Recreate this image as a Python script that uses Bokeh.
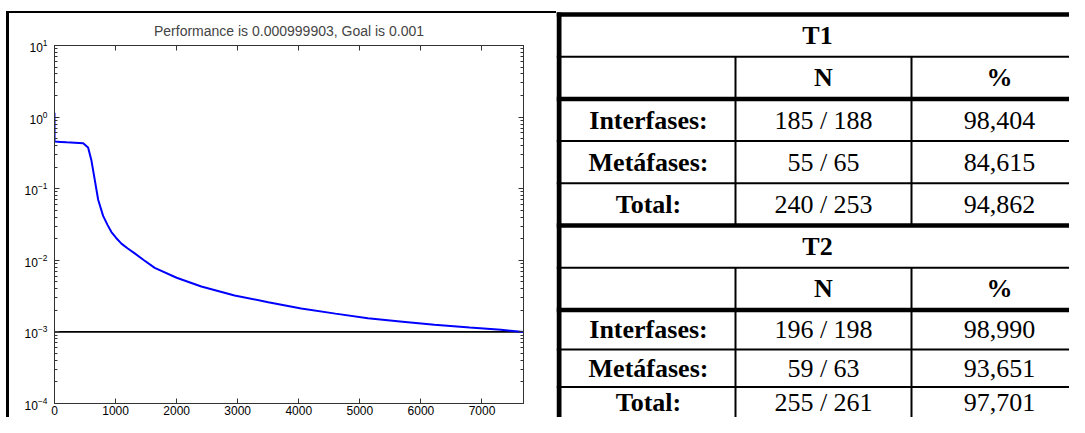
from bokeh.plotting import figure
from bokeh.models import (LogAxis, LinearAxis, Range1d, LogTicker, SingleIntervalTicker,
                          Div, Spacer)
from bokeh.layouts import row, column
from bokeh.core.properties import value
from bokeh.embed import file_html
from bokeh.resources import INLINE

# ---------------- data ----------------
epochs = [0, 1, 100, 200, 333, 470, 550, 605, 660, 715, 796, 870, 932, 1010, 1096, 1200,
          1314, 1460, 1641, 2000, 2404, 2949, 3500, 4040, 4600, 5131, 5700, 6221, 6800,
          7311, 7680]
perf = [1.15, 0.455, 0.45, 0.445, 0.44, 0.43, 0.375, 0.247, 0.132, 0.070, 0.0417, 0.031,
        0.0248, 0.0205, 0.0171, 0.0146, 0.0125, 0.0101, 0.00783, 0.0057, 0.00431, 0.00323,
        0.0026, 0.00212, 0.0018, 0.00155, 0.00139, 0.00126, 0.00115, 0.00107, 0.000999903]
goal = 0.001
title_text = "Performance is 0.000999903, Goal is 0.001"

table_titles = ["T1", "T2"]
col_headers = ["N", "%"]
row_labels = ["Interfases:", "Metáfases:", "Total:"]
t1_counts = ["185 / 188", "55 / 65", "240 / 253"]
t1_pct = ["98,404", "84,615", "94,862"]
t2_counts = ["196 / 198", "59 / 63", "255 / 261"]
t2_pct = ["98,990", "93,651", "97,701"]

# ---------------- layout constants (content pixels) ----------------
W_TOTAL, H_TOTAL = 1069, 417
LEFT_PAD, VLINE_W = 6, 3
TOP_PAD, HLINE_H = 11, 2
CHART_W = 556 - LEFT_PAD - VLINE_W          # chart panel ends where the table starts
CHART_H = H_TOTAL - TOP_PAD - HLINE_H

# ---------------- chart ----------------
AX = "#333333"
p = figure(width=CHART_W, height=CHART_H, y_axis_type="log",
           x_range=Range1d(0, epochs[-1]), y_range=Range1d(1e-4, 1e1),
           output_backend="svg", toolbar_location=None,
           min_border_left=45, min_border_right=33, min_border_top=28, min_border_bottom=14)
p.grid.visible = False
p.outline_line_color = AX
p.title.text = title_text
p.title.align = "center"
p.title.text_font = "Liberation Sans"
p.title.text_font_size = "14px"
p.title.text_font_style = "normal"
p.title.standoff = 14

def style_axis(ax, labels=True):
    ax.axis_line_color = AX
    ax.major_tick_line_color = AX
    ax.minor_tick_line_color = AX
    ax.major_tick_in = 5
    ax.major_tick_out = 0
    ax.minor_tick_in = 3
    ax.minor_tick_out = 0
    if labels:
        ax.major_label_text_font = "Liberation Sans"
        ax.major_label_text_font_size = "12px"
        ax.major_label_text_color = "black"
    else:
        ax.major_label_text_font_size = "2px"
        ax.major_label_text_color = None
        ax.major_label_standoff = 0

p.yaxis[0].ticker = LogTicker(num_minor_ticks=10)
p.xaxis[0].ticker = SingleIntervalTicker(interval=1000, num_minor_ticks=0)
style_axis(p.yaxis[0])
style_axis(p.xaxis[0])
p.yaxis[0].major_label_standoff = 7
p.xaxis[0].major_label_standoff = 2

ra = LogAxis(ticker=LogTicker(num_minor_ticks=10))
style_axis(ra, labels=False)
p.add_layout(ra, "right")
ta = LinearAxis(ticker=SingleIntervalTicker(interval=1000, num_minor_ticks=0))
style_axis(ta, labels=False)
p.add_layout(ta, "above")

p.line([epochs[0], epochs[-1]], [goal, goal], line_color="black", line_width=1.6)
p.line(epochs, perf, line_color="#0000ff", line_width=2)

# frame lines of the chart panel
pad = Spacer(width=LEFT_PAD, height=H_TOTAL, margin=0)
vline = column(Spacer(width=VLINE_W, height=TOP_PAD, margin=0),
               Div(text="", width=VLINE_W, height=H_TOTAL - TOP_PAD, margin=0,
                   styles={"background-color": "black"}), spacing=0)
mid = column(Spacer(width=CHART_W, height=TOP_PAD, margin=0),
             Div(text="", width=CHART_W, height=HLINE_H, margin=0,
                 styles={"background-color": "black"}),
             p, spacing=0)

# ---------------- table ----------------
X0 = 556
X1 = W_TOTAL
t = figure(width=X1 - X0, height=H_TOTAL, x_range=Range1d(X0, X1), y_range=Range1d(H_TOTAL, 0),
           output_backend="svg", toolbar_location=None,
           x_axis_location=None, y_axis_location=None,
           min_border_left=0, min_border_right=0, min_border_top=0, min_border_bottom=0)
t.grid.visible = False
t.outline_line_color = None

TOP = 14.0
# row heights: the last rows are a little tighter so the final row fits the page
row_h = [42.2] * 7 + [39.6, 37.4, 42.0]
bounds = [TOP]
for h in row_h:
    bounds.append(bounds[-1] + h)
XR = 1090
col_div = [735, 911]
col_cx = [648, 823, 999]
nrows = 10
TEXT_MAX_Y = H_TOTAL - 15

def yb(k):
    return bounds[k]

def yc_of(k):
    return min((bounds[k] + bounds[k + 1]) / 2, TEXT_MAX_Y)

# horizontal lines
thick = [0, 2, 5, 7]
for k in range(nrows):
    t.segment(x0=[X0], y0=[yb(k)], x1=[XR], y1=[yb(k)],
              line_width=(4.5 if k in thick else 2), line_color="black")
# left thick border
t.segment(x0=[X0 + 2.5], y0=[TOP - 2], x1=[X0 + 2.5], y1=[440], line_width=5, line_color="black")
# column dividers
for block in (0, 5):
    ys = yb(block + 1)
    ye = yb(block + 5) if block == 0 else 440
    for cx in col_div:
        t.segment(x0=[cx], y0=[ys], x1=[cx], y1=[ye], line_width=2, line_color="black")

# texts
bold_x, bold_y, bold_t = [], [], []
norm_x, norm_y, norm_t = [], [], []
blocks = [(0, t1_counts, t1_pct), (5, t2_counts, t2_pct)]
for bi, (start, counts, pcts) in enumerate(blocks):
    bold_x.append(817); bold_y.append(yc_of(start)); bold_t.append(table_titles[bi])
    for ci, h in enumerate(col_headers):
        bold_x.append(col_cx[ci + 1]); bold_y.append(yc_of(start + 1)); bold_t.append(h)
    for ri in range(3):
        yc = yc_of(start + 2 + ri)
        bold_x.append(col_cx[0]); bold_y.append(yc); bold_t.append(row_labels[ri])
        norm_x.append(col_cx[1]); norm_y.append(yc); norm_t.append(counts[ri])
        norm_x.append(col_cx[2]); norm_y.append(yc); norm_t.append(pcts[ri])

t.text(x=bold_x, y=bold_y, text=bold_t, text_align="center", text_baseline="middle",
       text_font=value("Liberation Serif"), text_font_size="26px", text_font_style="bold",
       text_color="black")
t.text(x=norm_x, y=norm_y, text=norm_t, text_align="center", text_baseline="middle",
       text_font=value("Liberation Serif"), text_font_size="26px", text_font_style="normal",
       text_color="black")

layout = row(pad, vline, mid, t, spacing=0)
open("out.html", "w").write(file_html(layout, INLINE))
